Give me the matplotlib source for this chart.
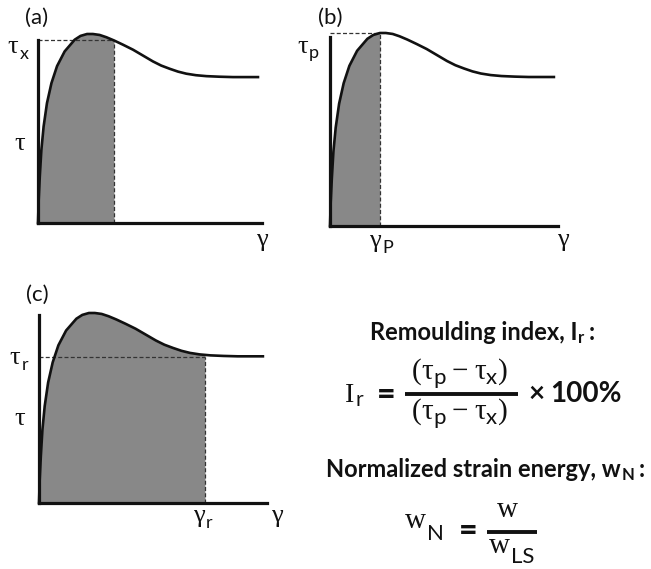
import matplotlib
matplotlib.use("Agg")
import matplotlib.pyplot as plt
import numpy as np

W, H = 651, 569
SERIF = "Liberation Serif"
SANS = "Lato"
INK = "#111111"
FILL = "#888888"

# one shear stress-strain curve (same in all three panels)
# strain in arbitrary units (axis runs 0..10), stress normalised by the peak
GAMMA = [0.0, 0.03, 0.08, 0.15, 0.25, 0.40, 0.60, 0.85, 1.19, 1.64, 1.90,
         2.19, 2.45, 2.75, 3.05, 3.39, 3.80, 4.24, 4.70, 5.13, 5.50, 5.88,
         6.25, 6.62, 7.05, 7.52, 8.10, 8.71, 9.30, 9.82]
TAU = [0.0, 0.12, 0.245, 0.386, 0.51, 0.634, 0.74, 0.83, 0.908, 0.97, 0.99,
       1.0, 1.0, 0.995, 0.983, 0.966, 0.943, 0.917, 0.885, 0.855, 0.833,
       0.816, 0.801, 0.79, 0.782, 0.777, 0.774, 0.772, 0.772, 0.772]

# marked point in each panel: (a) tau_x, (b) peak tau_p, (c) residual tau_r
PANELS = ["(a)", "(b)", "(c)"]
MARK_GAMMA = [3.39, 2.19, 7.28]
MARK_TAU = [0.966, 1.0, 0.768]
AXIS_TOP = [0.97, 0.98, 0.99]

# axes boxes in pixels: left, origin y, width, height
BOXES = [(38, 223, 224, 189), (330, 226, 228, 193), (39, 503, 228, 190)]


def fx(x):
    return x / W


def fy(y):
    return 1 - y / H


def piece(s, fam=SANS, size=16, wt="normal", dy=0, gap=0):
    return (s, fam, size, wt, dy, gap)


def row(x, yb, pieces, ha="center"):
    # lay text pieces side by side; x, yb = centre (or left) and baseline in pixels
    texts = []
    for s, fam, size, wt, dy, gap in pieces:
        texts.append(fig.text(0, 0, s, fontsize=size, family=fam, fontweight=wt,
                              ha="left", va="baseline", color=INK))
    r = fig.canvas.get_renderer()
    widths = [t.get_window_extent(r).width for t in texts]
    total = sum(widths) + sum(p[5] for p in pieces)
    cur = x - total / 2 if ha == "center" else x
    for t, w, p in zip(texts, widths, pieces):
        cur += p[5]
        t.set_position((fx(cur), fy(yb + p[4])))
        cur += w


def bar(x0, x1, y):
    fig.add_artist(plt.Line2D([fx(x0), fx(x1)], [fy(y), fy(y)], lw=2.8, color=INK,
                              solid_capstyle="butt"))


fig = plt.figure(figsize=(W / 100, H / 100), dpi=100)

g = np.array(GAMMA)
t = np.array(TAU)
for i, (left, oy, w, h) in enumerate(BOXES):
    ax = fig.add_axes([fx(left), fy(oy), w / W, h / H])
    gm, tm = MARK_GAMMA[i], MARK_TAU[i]
    keep = g < gm
    gg = np.append(g[keep], gm)
    tt = np.append(t[keep], np.interp(gm, g, t))
    ax.fill_between(gg, 0, tt, color=FILL, lw=0)
    dash = dict(color="#333333", lw=0.9, ls=(0, (3.2, 1.8)), clip_on=False)
    ax.plot([0, gm], [tm, tm], **dash)
    ax.plot([gm, gm], [0, tm], **dash)
    ax.plot(g, t, color=INK, lw=1.9, clip_on=False)
    ax.set_xlim(0, 10)
    ax.set_ylim(0, 1)
    for side in ["top", "right"]:
        ax.spines[side].set_visible(False)
    for side in ["left", "bottom"]:
        ax.spines[side].set_linewidth(2.3)
        ax.spines[side].set_color(INK)
    ax.spines["left"].set_bounds(0, AXIS_TOP[i])
    ax.set_xticks([])
    ax.set_yticks([])
    ax.patch.set_visible(False)

TS = 19   # greek symbol size
SS = 13   # subscript size

# panel letters
row(37, 24, [piece(PANELS[0], size=16)])
row(330, 24, [piece(PANELS[1], size=16)])
row(37, 301, [piece(PANELS[2], size=16)])

# axis symbols
row(18, 53, [piece("\u03c4", SERIF, TS), piece("x", size=SS, dy=6, gap=1)])
row(20, 150, [piece("\u03c4", SERIF, TS)])
row(262, 246, [piece("\u03b3", SERIF, TS)])

row(308, 53, [piece("\u03c4", SERIF, TS), piece("p", size=SS, dy=5, gap=1)])
row(381, 247, [piece("\u03b3", SERIF, TS), piece("P", size=SS, dy=6, gap=1)])
row(563, 246, [piece("\u03b3", SERIF, TS)])

row(19, 364, [piece("\u03c4", SERIF, TS), piece("r", size=SS, dy=6, gap=1)])
row(20, 425, [piece("\u03c4", SERIF, TS)])
row(203, 522, [piece("\u03b3", SERIF, TS), piece("r", size=SS, dy=6, gap=1)])
row(277, 522, [piece("\u03b3", SERIF, TS)])

# remoulding index
row(482, 340, [piece("Remoulding index, I", size=17, wt="bold"),
               piece("r", size=12, wt="bold", dy=3, gap=1),
               piece(":", size=17, wt="bold", gap=4)])

row(354, 402, [piece("I", SERIF, 20), piece("r", size=15, dy=4, gap=1)])
row(386, 404, [piece("=", size=23, wt=900)])
bar(405, 518, 394)
for yb in (379, 419):
    row(460, yb, [piece("(", SERIF, 21), piece("\u03c4", SERIF, 21),
                  piece("p", size=16, dy=5), piece("\u2212", SERIF, 21, gap=6),
                  piece("\u03c4", SERIF, 21, gap=6), piece("x", size=16, dy=5),
                  piece(")", SERIF, 21, gap=1)])
row(575, 402, [piece("\u00d7", size=20, wt="bold"), piece("100%", size=20, wt="bold", gap=6)])

# normalized strain energy
row(485, 477, [piece("Normalized strain energy, w", size=17, wt="bold"),
               piece("N", size=12, wt="bold", dy=3, gap=1),
               piece(":", size=17, wt="bold", gap=4)])

row(424, 528, [piece("w", SERIF, 21), piece("N", size=16, dy=12, gap=1)])
row(468, 540, [piece("=", size=23, wt=900)])
bar(487, 537, 532)
row(507, 517, [piece("w", SERIF, 21)])
row(512, 553, [piece("w", SERIF, 21), piece("LS", size=16, dy=10, gap=1)])

fig.savefig("out.png", dpi=100)
